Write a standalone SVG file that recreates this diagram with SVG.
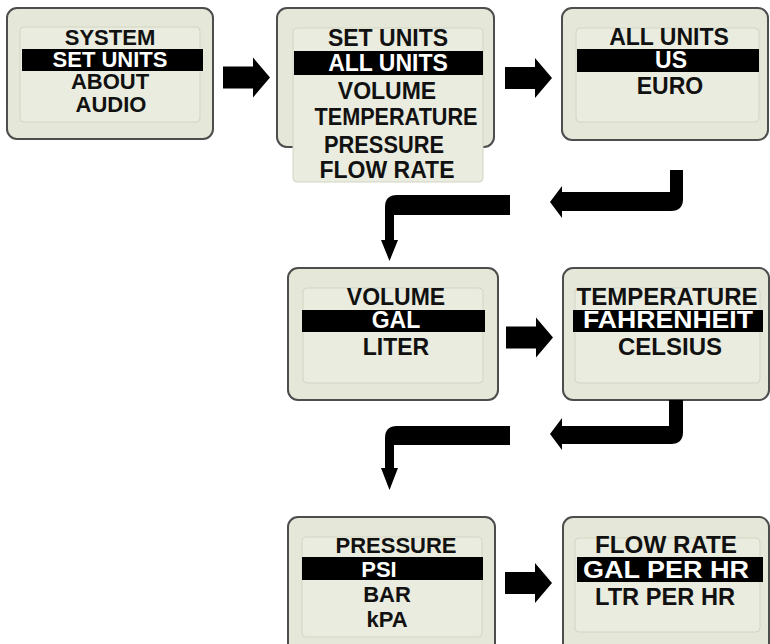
<svg xmlns="http://www.w3.org/2000/svg" xmlns:xlink="http://www.w3.org/1999/xlink" width="770" height="644" viewBox="0 0 770 644">
<style>
.outer{fill:#e5e8d8;stroke:#4d4d4d;stroke-width:2}
.inner{fill:#eaecdf;stroke:#d2d5c4;stroke-width:1}
.bar{fill:#000}
text{font-family:"Liberation Sans",Arial,sans-serif;font-weight:bold;text-anchor:middle;fill:#111}
.t22{font-size:22px}
.t23{font-size:23px}
.t24{font-size:24px}
text.hl{fill:#fff}
.arrow{fill:#000}
</style>
<defs>
<path id="rarrow" d="M0 -11 H30 V-20 L47 0 L30 20 V11 H0 Z"/>
</defs>
<rect width="770" height="644" fill="#fff"/>

<g id="node-system">
<rect class="outer" x="7" y="8" width="206" height="131" rx="10"/>
<rect class="inner" x="20" y="27" width="180" height="95" rx="4"/>
<rect class="bar" x="22" y="49" width="181" height="22"/>
<text class="t22" x="110" y="45">SYSTEM</text>
<text class="t22 hl" x="110" y="67">SET UNITS</text>
<text class="t22" x="110" y="89">ABOUT</text>
<text class="t22" x="111" y="112">AUDIO</text>
</g>

<g id="node-setunits">
<rect class="outer" x="277" y="8" width="217" height="139" rx="10"/>
<rect class="inner" x="293" y="28" width="190" height="154" rx="4"/>
<rect class="bar" x="294" y="51" width="189" height="24"/>
<text class="t23" x="388" y="46">SET UNITS</text>
<text class="t23 hl" x="388" y="71">ALL UNITS</text>
<text class="t23" x="387" y="99">VOLUME</text>
<text class="t23" x="396" y="125" textLength="163" lengthAdjust="spacingAndGlyphs">TEMPERATURE</text>
<text class="t23" x="384" y="153" textLength="120" lengthAdjust="spacingAndGlyphs">PRESSURE</text>
<text class="t23" x="387" y="178">FLOW RATE</text>
</g>

<g id="node-allunits">
<rect class="outer" x="562" y="8" width="206" height="132" rx="10"/>
<rect class="inner" x="576" y="28" width="183" height="94" rx="4"/>
<rect class="bar" x="577" y="49" width="182" height="23"/>
<text class="t23" x="669" y="45">ALL UNITS</text>
<text class="t23 hl" x="671" y="68">US</text>
<text class="t23" x="670" y="94">EURO</text>
</g>

<g id="node-volume">
<rect class="outer" x="288" y="268" width="210" height="132" rx="10"/>
<rect class="inner" x="303" y="288" width="180" height="95" rx="4"/>
<rect class="bar" x="302" y="310" width="183" height="22"/>
<text class="t23" x="396" y="305">VOLUME</text>
<text class="t23 hl" x="396" y="328">GAL</text>
<text class="t23" x="396" y="355">LITER</text>
</g>

<g id="node-temperature">
<rect class="outer" x="563" y="268" width="206" height="132" rx="10"/>
<rect class="inner" x="575" y="288" width="185" height="95" rx="4"/>
<rect class="bar" x="573" y="310" width="190" height="22"/>
<text class="t24" x="667" y="305" textLength="181" lengthAdjust="spacingAndGlyphs">TEMPERATURE</text>
<text class="t24 hl" x="668" y="328" textLength="170" lengthAdjust="spacingAndGlyphs">FAHRENHEIT</text>
<text class="t24" x="670" y="355">CELSIUS</text>
</g>

<g id="node-pressure">
<rect class="outer" x="288" y="517" width="207" height="140" rx="10"/>
<rect class="inner" x="302" y="537" width="180" height="100" rx="4"/>
<rect class="bar" x="302" y="557" width="181" height="23"/>
<text class="t22" x="396" y="553">PRESSURE</text>
<text class="t22 hl" x="379" y="577">PSI</text>
<text class="t22" x="387" y="602">BAR</text>
<text class="t22" x="387" y="627">kPA</text>
</g>

<g id="node-flowrate">
<rect class="outer" x="563" y="517" width="206" height="140" rx="10"/>
<rect class="inner" x="575" y="538" width="185" height="94" rx="4"/>
<rect class="bar" x="577" y="557" width="186" height="25"/>
<text class="t24" x="666" y="553" textLength="142" lengthAdjust="spacingAndGlyphs">FLOW RATE</text>
<text class="t24 hl" x="666" y="578" textLength="166" lengthAdjust="spacingAndGlyphs">GAL PER HR</text>
<text class="t24" x="665" y="605" textLength="140" lengthAdjust="spacingAndGlyphs">LTR PER HR</text>
</g>

<g id="connectors" class="arrow">
<use xlink:href="#rarrow" transform="translate(223,77.5)"/>
<use xlink:href="#rarrow" transform="translate(505,78)"/>
<use xlink:href="#rarrow" transform="translate(506,337.5)"/>
<use xlink:href="#rarrow" transform="translate(505,583)"/>
<path d="M670 170 H683 V199 Q683 211 671 211 H562 V218 L550 202 L562 186 V192 H670 Z"/>
<path d="M510 195 V215 H394 V240 H398 L389.5 261 L381 240 H385 V207 Q385 195 397 195 Z"/>
<path d="M669 400 H683 V432 Q683 444 671 444 H562 V450 L550 434 L562 418 V426 H669 Z"/>
<path d="M510 426 V445 H394 V468 H398 L389.5 490 L381 468 H385 V438 Q385 426 397 426 Z"/>
</g>
</svg>
